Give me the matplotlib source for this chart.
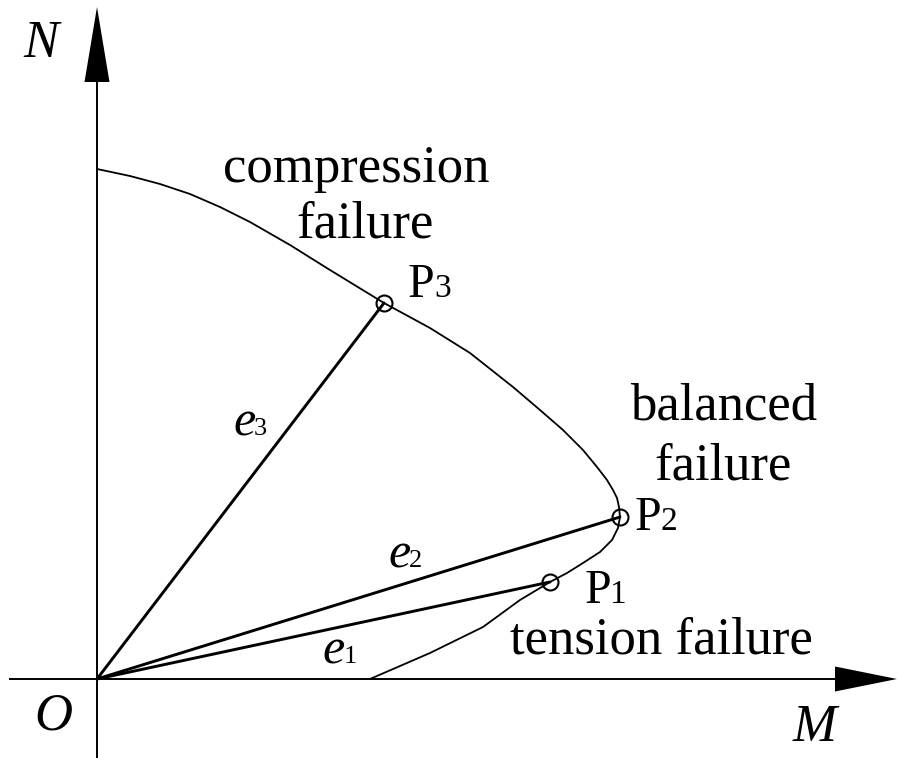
import matplotlib
matplotlib.use("Agg")
import matplotlib.pyplot as plt

# ---- data (M, N) ----
curve_M = [0, 33, 63, 93, 123, 153, 193, 233, 287, 333, 373, 416, 443, 466, 486, 500,
           510, 516, 520, 522, 523, 521, 515, 503, 486, 470, 453, 423, 386, 333, 273]
curve_N = [510, 503, 495, 485, 472, 457, 434, 409, 376, 351, 326, 292, 269, 249, 229, 212,
           199, 189, 181, 172, 162, 151, 139, 127, 116, 106, 97, 79, 52, 26, 0]

point_names = ["1", "2", "3"]
point_M = [453, 523, 287]
point_N = [97, 162, 376]

region_labels = ["compression", "failure", "balanced", "failure", "tension failure"]

plt.rcParams['font.family'] = ['Liberation Serif', 'DejaVu Serif']

fig = plt.figure(figsize=(9.01, 7.58), dpi=100)
ax = fig.add_axes([0, 0, 1, 1])
ax.set_xlim(-97, 804)
ax.set_ylim(-79, 679)
ax.axis('off')

# axes
ax.plot([0, 0], [-79, 600], color='black', lw=1.4)
ax.plot([-87, 740], [0, 0], color='black', lw=1.4)
ax.fill([-12.5, 12.5, 0], [597, 597, 672], color='black', lw=0)
ax.fill([738, 738, 800], [-12.5, 12.5, 0], color='black', lw=0)

# interaction curve
ax.plot(curve_M, curve_N, color='black', lw=1.3, solid_joinstyle='round')

# eccentricity lines
for m, n in zip(point_M, point_N):
    ax.plot([0, m], [0, n], color='black', lw=2.1, solid_capstyle='round')
ax.plot(point_M, point_N, 'o', ms=11.5, mfc='none', mec='black', mew=1.5, ls='none')

# point labels P1..P3
p_text = {"1": (488, 76, 512), "2": (538, 149, 564), "3": (311, 382, 337)}
for name in point_names:
    x0, y0, x1 = p_text[name]
    ax.text(x0, y0, "P", fontsize=34.5, va='baseline', ha='left')
    ax.text(x1, y0, name, fontsize=24, va='baseline', ha='left')

# e labels
e_text = [("1", 225, 16, 247), ("2", 291, 112, 312), ("3", 136, 244, 157)]
for name, x0, y0, x1 in e_text:
    ax.text(x0, y0, "e", fontsize=36, style='italic', va='baseline', ha='left')
    ax.text(x1, y0, name, fontsize=19, va='baseline', ha='left')

# region labels
ax.text(259, 497, region_labels[0], fontsize=38, ha='center', va='baseline')
ax.text(268, 441, region_labels[1], fontsize=38, ha='center', va='baseline')
ax.text(627, 259, region_labels[2], fontsize=38, ha='center', va='baseline')
ax.text(626, 199, region_labels[3], fontsize=38, ha='center', va='baseline')
ax.text(413, 26, region_labels[4], fontsize=38, ha='left', va='baseline')

# axis labels
ax.text(-56, 635, "N", fontsize=38, style='italic', ha='center', va='center')
ax.text(-44, -37, "O", fontsize=38, style='italic', ha='center', va='center')
ax.text(718, -49, "M", fontsize=38, style='italic', ha='center', va='center')

fig.savefig("out.png", dpi=100)
